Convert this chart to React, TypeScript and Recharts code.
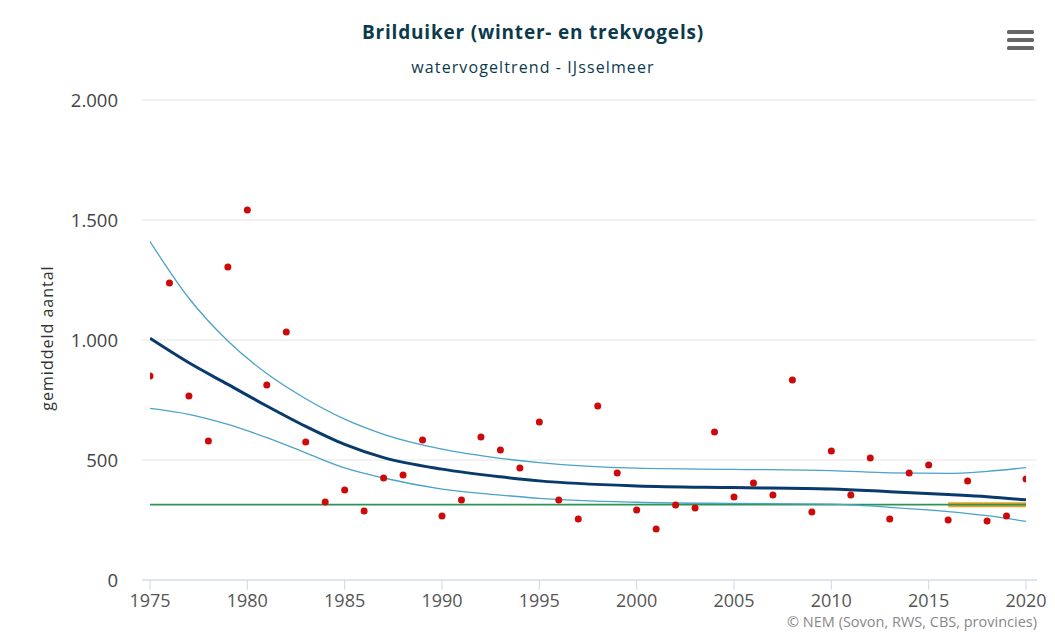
import React from 'react';
import { ComposedChart, Line, Scatter, XAxis, YAxis, CartesianGrid } from 'recharts';

const years = [1975,1976,1977,1978,1979,1980,1981,1982,1983,1984,1985,1986,1987,1988,1989,1990,1991,1992,1993,1994,1995,1996,1997,1998,1999,2000,2001,2002,2003,2004,2005,2006,2007,2008,2009,2010,2011,2012,2013,2014,2015,2016,2017,2018,2019,2020];
const counts = [850,1237,767,579,1304,1542,812,1033,575,325,375,287,425,437,583,267,333,596,542,467,658,333,254,725,446,292,212,312,300,617,346,404,354,833,283,537,354,508,254,446,479,250,412,246,267,421];

const trendYears = [1975,1977,1979,1981,1983,1985,1987,1990,1993,1995,2000,2005,2010,2013,2016,2018,2020];
const trend = [1007,905,815,725,640,565,510,462,430,413,392,385,379,368,356,347,334];
const upper = [1410,1174,996,860,755,670,607,545,507,489,466,461,456,446,444,453,468];
const lower = [715,690,648,593,530,467,425,379,354,340,324,319,316,303,285,268,244];

const baselineYears = [1975, 2020];
const baseline = [314, 314];
const recentYears = [2016, 2020];
const recent = [314, 314];

const xTicks = [1975,1980,1985,1990,1995,2000,2005,2010,2015,2020];
const yTicks = [0,500,1000,1500,2000];

const pointData = years.map((y, i) => ({ year: y, count: counts[i] }));
const trendData = trendYears.map((y, i) => ({ year: y, trend: trend[i], upper: upper[i], lower: lower[i] }));
const baseData = baselineYears.map((y, i) => ({ year: y, base: baseline[i] }));
const recentData = recentYears.map((y, i) => ({ year: y, recent: recent[i] }));

const fmt = (v: number) => v.toLocaleString('nl-NL');
const FONT = '"Open Sans", sans-serif';

export default function App() {
  return (
    <div style={{ position: 'absolute', left: 0, top: 0, width: 1055, height: 633, background: '#fff', fontFamily: FONT }}>
      <ComposedChart width={1055} height={633} margin={{ top: 100, right: 18, bottom: 23, left: 0 }}>
        <CartesianGrid vertical={false} stroke="#e6e6e6" />
        <XAxis
          type="number"
          dataKey="year"
          domain={[1975, 2020]}
          ticks={xTicks}
          allowDataOverflow
          padding={{ left: 8, right: 11 }}
          height={30}
          tickSize={10}
          tickMargin={4}
          stroke="#ccd6eb"
          tick={{ fill: '#555', fontSize: 18, fontFamily: FONT }}
        />
        <YAxis
          type="number"
          domain={[0, 2000]}
          ticks={yTicks}
          width={142}
          axisLine={false}
          tickLine={false}
          tickSize={0}
          tickMargin={24}
          tickFormatter={fmt}
          tick={{ fill: '#444', fontSize: 18.5, fontFamily: FONT }}
        />
        <Line data={recentData} dataKey="recent" stroke="#f0a020" strokeWidth={5} dot={false} isAnimationActive={false} />
        <Line data={baseData} dataKey="base" stroke="#2e9455" strokeWidth={1.6} dot={false} isAnimationActive={false} />
        <Line data={trendData} dataKey="upper" type="monotone" stroke="#4aa3c8" strokeWidth={1.3} dot={false} isAnimationActive={false} />
        <Line data={trendData} dataKey="lower" type="monotone" stroke="#4aa3c8" strokeWidth={1.3} dot={false} isAnimationActive={false} />
        <Line data={trendData} dataKey="trend" type="monotone" stroke="#083a6b" strokeWidth={3} dot={false} isAnimationActive={false} />
        <Scatter data={pointData} dataKey="count" fill="#cc0a0a" shape={(p: any) => <circle cx={p.cx} cy={p.cy} r={3.5} fill="#cc0a0a" />} isAnimationActive={false} />
      </ComposedChart>
      <svg width={1055} height={633} style={{ position: 'absolute', left: 0, top: 0, pointerEvents: 'none' }}>
        <text x={533} y={39} textAnchor="middle" fontSize={19} fontWeight={700} letterSpacing={0.8} fill="#0b3a4c" fontFamily={FONT}>Brilduiker (winter- en trekvogels)</text>
        <text x={533} y={73} textAnchor="middle" fontSize={16} letterSpacing={1.1} fill="#0b3a4c" fontFamily={FONT}>watervogeltrend - IJsselmeer</text>
        <text x={0} y={0} transform="translate(53,338) rotate(-90)" textAnchor="middle" fontSize={16} letterSpacing={1} fill="#333" fontFamily={FONT}>gemiddeld aantal</text>
        <text x={1037} y={627} textAnchor="end" fontSize={14.5} fill="#888" fontFamily={FONT}>© NEM (Sovon, RWS, CBS, provincies)</text>
        <rect x={1007} y={30} width={27} height={4} rx={1.5} fill="#666" />
        <rect x={1007} y={38} width={27} height={4} rx={1.5} fill="#666" />
        <rect x={1007} y={46} width={27} height={4} rx={1.5} fill="#666" />
      </svg>
    </div>
  );
}
